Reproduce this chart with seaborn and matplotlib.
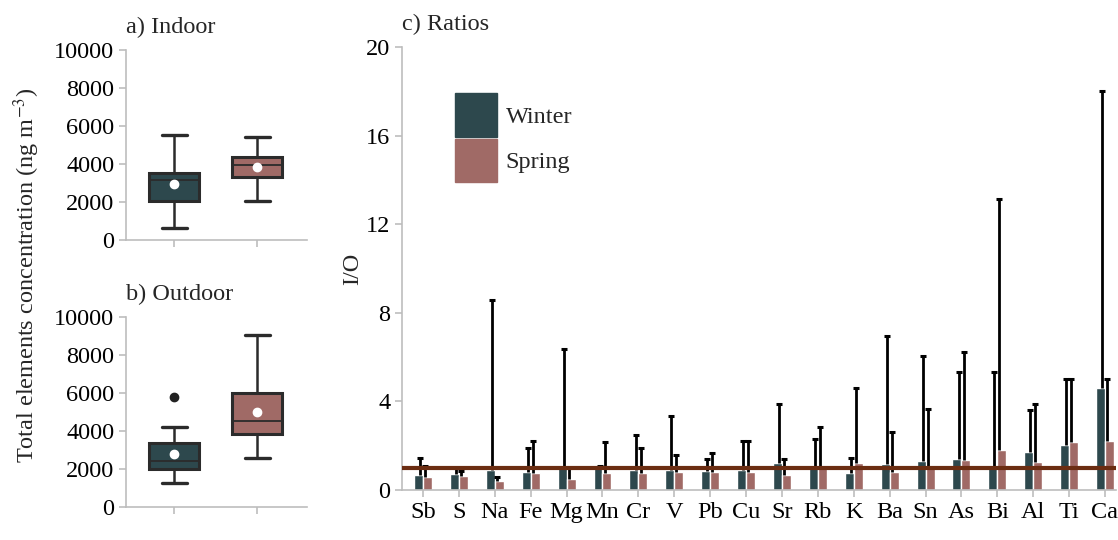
import numpy as np
import pandas as pd
import matplotlib
matplotlib.use('Agg')
import matplotlib.pyplot as plt
from matplotlib.patches import Patch
import seaborn as sns

WINTER_COLOR = '#2d484d'
SPRING_COLOR = '#a06a66'
LINE_COLOR = '#6b2d12'
AXIS_GRAY = '#bdbdbd'
EDGE_DARK = '#2b2b2b'
FS = 17.5

seasons = ['Winter', 'Spring']

# box statistics read off panels a) and b) (ng m-3)
indoor_low = [650, 2050]
indoor_q1 = [2070, 3330]
indoor_med = [3160, 3950]
indoor_q3 = [3530, 4350]
indoor_high = [5530, 5440]
indoor_mean = [2930, 3830]
indoor_fliers = [[], []]

outdoor_low = [1260, 2570]
outdoor_q1 = [1990, 3830]
outdoor_med = [2410, 4530]
outdoor_q3 = [3390, 5980]
outdoor_high = [4230, 9040]
outdoor_mean = [2780, 5020]
outdoor_fliers = [[5800], []]

# I/O ratios, panel c)
elements = ['Sb', 'S', 'Na', 'Fe', 'Mg', 'Mn', 'Cr', 'V', 'Pb', 'Cu', 'Sr',
            'Rb', 'K', 'Ba', 'Sn', 'As', 'Bi', 'Al', 'Ti', 'Ca']
winter_ratio = [0.68, 0.72, 0.90, 0.80, 1.05, 1.05, 0.90, 0.90, 0.87, 0.90,
                1.20, 0.98, 0.78, 1.16, 1.31, 1.40, 1.08, 1.72, 2.03, 4.62]
spring_ratio = [0.60, 0.63, 0.42, 0.78, 0.50, 0.78, 0.75, 0.80, 0.80, 0.80,
                0.68, 0.98, 1.20, 0.83, 0.98, 1.35, 1.80, 1.28, 2.15, 2.21]
winter_err_top = [1.43, 1.00, 8.60, 1.91, 6.35, 1.10, 2.48, 3.36, 1.38, 2.21,
                  3.87, 2.29, 1.46, 6.95, 6.05, 5.34, 5.34, 3.61, 5.03, 18.03]
spring_err_top = [1.10, 0.88, 0.60, 2.21, 0.98, 2.15, 1.88, 1.58, 1.69, 2.21,
                  1.40, 2.86, 4.62, 2.63, 3.66, 6.25, 13.14, 3.88, 5.03, 5.03]


def box_stats(low, q1, med, q3, high, mean, fliers):
    return [dict(whislo=low[i], q1=q1[i], med=med[i], q3=q3[i], whishi=high[i],
                 mean=mean[i], fliers=fliers[i], label=seasons[i])
            for i in range(len(seasons))]


def style_axis(ax):
    sns.despine(ax=ax)
    for side in ['left', 'bottom']:
        ax.spines[side].set_color(AXIS_GRAY)
        ax.spines[side].set_linewidth(1.2)
    ax.tick_params(colors=AXIS_GRAY, labelcolor='black', labelsize=FS, width=1.2, length=5)


def draw_box_panel(ax, stats, title):
    bp = ax.bxp(stats, positions=[0, 1], widths=0.6, capwidths=0.3, showmeans=True,
                patch_artist=True, showfliers=True,
                boxprops=dict(edgecolor=EDGE_DARK, linewidth=2.2),
                medianprops=dict(color=EDGE_DARK, linewidth=1.3),
                whiskerprops=dict(color=EDGE_DARK, linewidth=1.8),
                capprops=dict(color=EDGE_DARK, linewidth=2.4),
                meanprops=dict(marker='o', markerfacecolor='white', markeredgecolor='white', markersize=6),
                flierprops=dict(marker='o', markerfacecolor='#222222', markeredgecolor='#222222', markersize=6))
    for patch, color in zip(bp['boxes'], [WINTER_COLOR, SPRING_COLOR]):
        patch.set_facecolor(color)
    ax.set_xlim(-0.58, 1.6)
    ax.set_ylim(0, 10000)
    ax.set_yticks(np.arange(0, 10001, 2000))
    ax.set_xticks([0, 1])
    ax.set_xticklabels(['', ''])
    style_axis(ax)
    ax.set_title(title, loc='left', fontsize=FS, pad=12)


sns.set_theme(style='ticks')
plt.rcParams['font.family'] = ['Liberation Serif', 'DejaVu Serif']
plt.rcParams['mathtext.fontset'] = 'stix'

fig = plt.figure(figsize=(11.18, 5.4), dpi=100)
ax_a = fig.add_axes([0.1127, 0.5556, 0.162, 0.352])
ax_b = fig.add_axes([0.1127, 0.0611, 0.162, 0.352])
ax_c = fig.add_axes([0.3596, 0.0926, 0.6384, 0.820])

draw_box_panel(ax_a, box_stats(indoor_low, indoor_q1, indoor_med, indoor_q3,
                               indoor_high, indoor_mean, indoor_fliers), 'a) Indoor')
draw_box_panel(ax_b, box_stats(outdoor_low, outdoor_q1, outdoor_med, outdoor_q3,
                               outdoor_high, outdoor_mean, outdoor_fliers), 'b) Outdoor')

fig.text(0.024, 0.49, 'Total elements concentration (ng m$^{-3}$)', rotation=90,
         ha='center', va='center', fontsize=FS)

# ratio bars
ratio_df = pd.DataFrame({
    'element': elements * 2,
    'season': ['Winter'] * len(elements) + ['Spring'] * len(elements),
    'ratio': winter_ratio + spring_ratio,
})
sns.barplot(data=ratio_df, x='element', y='ratio', hue='season', order=elements,
            hue_order=seasons, palette=[WINTER_COLOR, SPRING_COLOR], width=0.5,
            errorbar=None, saturation=1, legend=False, ax=ax_c)

xpos = np.arange(len(elements))
for offset, vals, tops in [(-0.08, winter_ratio, winter_err_top), (0.06, spring_ratio, spring_err_top)]:
    vals = np.array(vals)
    up = np.clip(np.array(tops) - vals, 0, None)
    _, caps, _ = ax_c.errorbar(xpos + offset, vals, yerr=[np.zeros_like(vals), up], fmt='none',
                               ecolor='black', elinewidth=2, capsize=2.5, capthick=2.2, zorder=3)
    caps[0].set_visible(False)

ax_c.axhline(1, color=LINE_COLOR, linewidth=3, zorder=4)
ax_c.set_xlim(-0.585, 19.3)
ax_c.set_ylim(0, 20)
ax_c.set_yticks([0, 4, 8, 12, 16, 20])
ax_c.set_xlabel('')
ax_c.set_ylabel('I/O', fontsize=FS, labelpad=2)
style_axis(ax_c)
ax_c.set_title('c) Ratios', loc='left', fontsize=FS, pad=12)

handles = [Patch(facecolor=WINTER_COLOR, edgecolor=WINTER_COLOR),
           Patch(facecolor=SPRING_COLOR, edgecolor=SPRING_COLOR)]
ax_c.legend(handles, seasons, frameon=False, loc='upper left', bbox_to_anchor=(0.043, 0.945),
            handlelength=1.75, handleheight=2.4, handletextpad=0.35, labelspacing=0.05,
            fontsize=FS)

fig.savefig('out.png', dpi=100)
